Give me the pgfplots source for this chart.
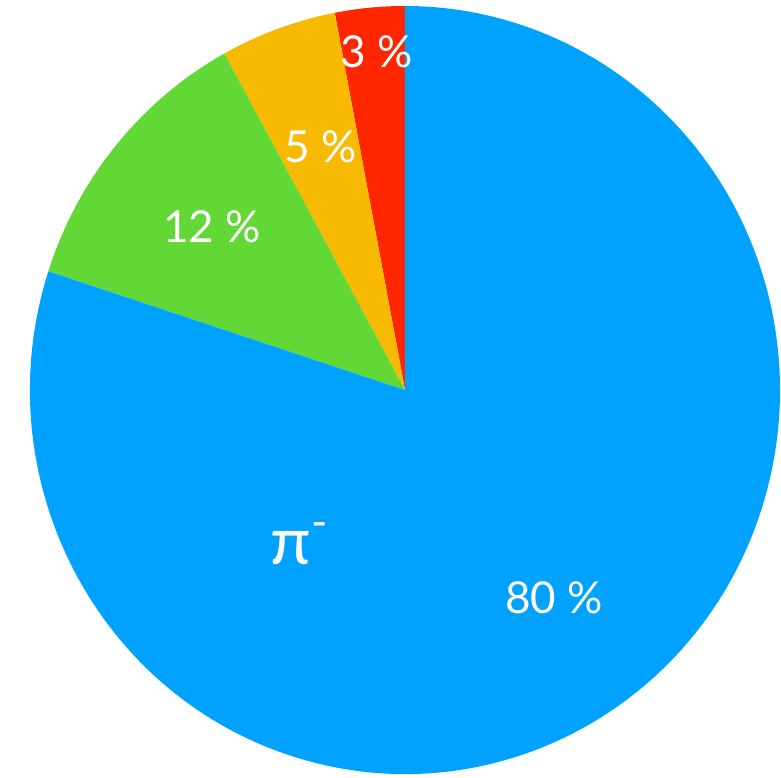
\documentclass[border=0pt]{standalone}
\usepackage{pgfplots}
\pgfplotsset{compat=1.18}
\usepackage{pgfplotstable}
\usepackage{fontspec}
\setmainfont{Lato}
\definecolor{cBlue}{HTML}{00A2FF}
\definecolor{cGreen}{HTML}{61D836}
\definecolor{cYellow}{HTML}{F8BA00}
\definecolor{cRed}{HTML}{FF2600}
% share (%), start (cumulative %, counter-clockwise from top), colour
\pgfplotstableread{
share start col
3  0  cRed
5  3  cYellow
12 8  cGreen
80 20 cBlue
}\piedata
\newcommand\cx{405}
\newcommand\cy{388}
\begin{document}
\begin{tikzpicture}
\begin{axis}[
  anchor=south west, at={(0,0)},
  scale only axis, width=781pt, height=778pt,
  xmin=0, xmax=781, ymin=0, ymax=778,
  hide axis, clip=false,
]
\pgfplotstablegetrowsof{\piedata}
\pgfmathtruncatemacro\nrows{\pgfplotsretval-1}
\pgfplotsforeachungrouped \i in {0,...,\nrows}{%
  \pgfplotstablegetelem{\i}{share}\of\piedata \let\sh\pgfplotsretval
  \pgfplotstablegetelem{\i}{start}\of\piedata \let\st\pgfplotsretval
  \pgfplotstablegetelem{\i}{col}\of\piedata \let\cc\pgfplotsretval
  \pgfmathsetmacro\aA{90+3.6*\st}%
  \pgfmathsetmacro\aB{90+3.6*(\st+\sh)}%
  \edef\tmp{\noexpand\fill[\cc] (axis cs:\cx,\cy) -- +(\aA:375pt and 384pt)
    arc[start angle=\aA, end angle=\aB, x radius=375pt, y radius=384pt] -- cycle;}%
  \tmp
}
\begin{scope}[every node/.style={text=white, font=\fontsize{44}{50}\selectfont, inner sep=0pt}]
\node at (axis cs:377,726) {3 \%};
\node at (axis cs:321,631) {5 \%};
\node at (axis cs:212,551) {12 \%};
\node at (axis cs:554,180) {80 \%};
\node[font=\fontsize{66}{72}\selectfont] at (axis cs:291,230) {π};
\node[font=\fontsize{44}{50}\selectfont] at (axis cs:320,248) {-};
\end{scope}
\end{axis}
\pgfresetboundingbox
\useasboundingbox (0,0) rectangle (781pt,778pt);
\end{tikzpicture}
\end{document}
